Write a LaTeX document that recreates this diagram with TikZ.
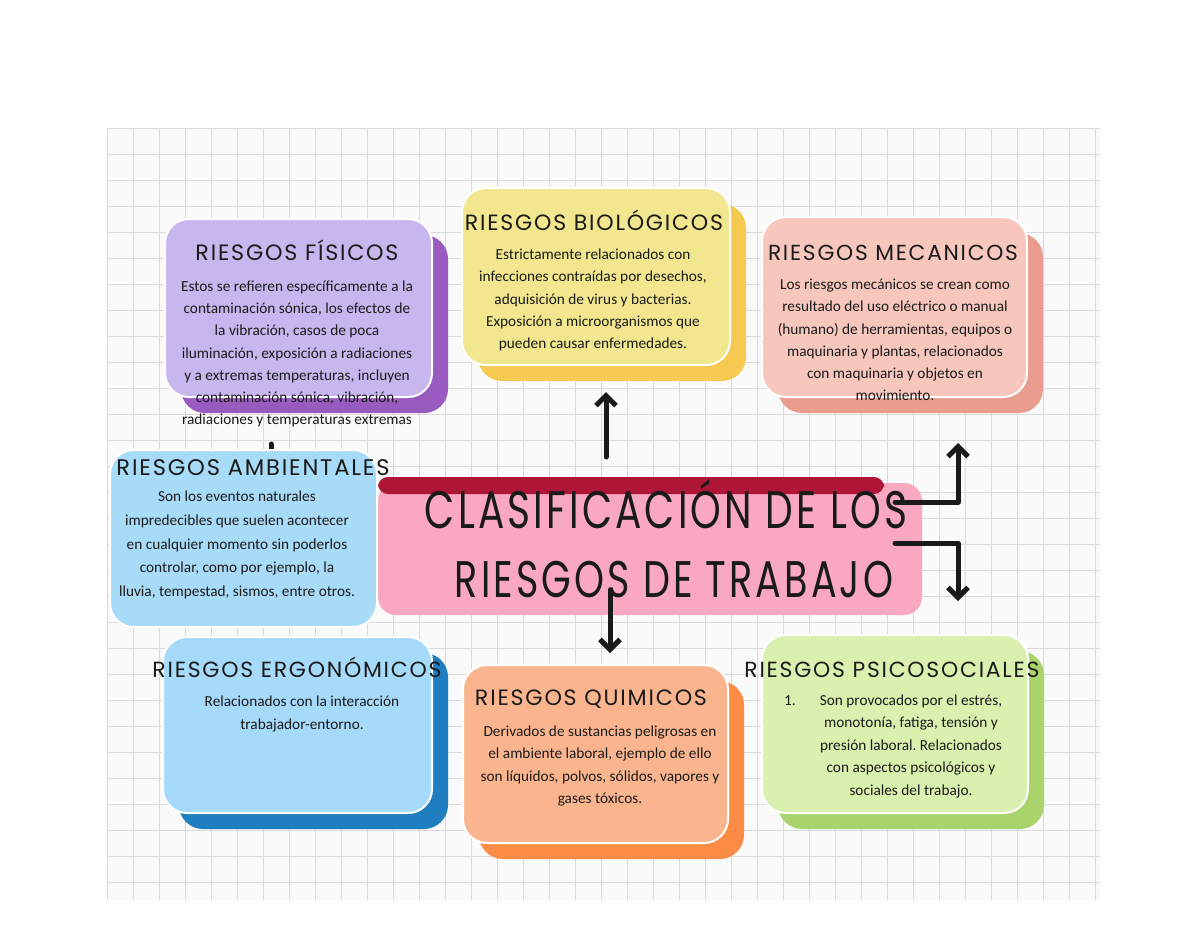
\documentclass[tikz,border=0pt]{standalone}
\usepackage{fontspec}
\usepackage{graphicx}
\usetikzlibrary{arrows.meta}
\newfontfamily\titlef[LetterSpace=8]{Poppins}
\newfontfamily\bodyf{Carlito}
\frenchspacing
\definecolor{ink}{HTML}{1A1A1A}
\definecolor{gridbg}{HTML}{FAFAFA}
\definecolor{gridln}{HTML}{DADADA}
\definecolor{fisF}{HTML}{C8B6EF}
\definecolor{fisS}{HTML}{9A5BC0}
\definecolor{bioF}{HTML}{F2E68E}
\definecolor{bioS}{HTML}{F6CA50}
\definecolor{mecF}{HTML}{F7C7BD}
\definecolor{mecS}{HTML}{EA9C8E}
\definecolor{ambF}{HTML}{A8DBF8}
\definecolor{ergF}{HTML}{A6DAFA}
\definecolor{ergS}{HTML}{1F7EC0}
\definecolor{quiF}{HTML}{FBB58E}
\definecolor{quiS}{HTML}{FC8C45}
\definecolor{psiF}{HTML}{DAF0AE}
\definecolor{psiS}{HTML}{A9D46B}
\definecolor{ctrF}{HTML}{F9A8BF}
\definecolor{band}{HTML}{AE1537}
\tikzset{
  frontbox/.style={draw=white, line width=1pt, rounded corners=12pt, inner sep=0pt, outer sep=0pt},
  shadowbox/.style={draw=none, rounded corners=12pt, inner sep=0pt, outer sep=0pt},
  ttl/.style={inner sep=0pt, outer sep=0pt, text=ink, anchor=base},
  body/.style={inner sep=0pt, outer sep=0pt, align=center, text=ink, font=\bodyf\frenchspacing\fontsize{7.65}{11.1}\selectfont},
  conn/.style={line width=2.5pt, line cap=round, line join=round, draw=ink, -{Straight Barb[length=5pt,width=10pt]}},
  gridline/.style={draw=gridln, line width=0.45pt}
}
\newcommand\cardpair[7]{%
  \node[shadowbox, fill=#7, minimum width=#4*0.5pt, minimum height=#5*0.5pt] (#1s) at (#2+16,#3+16) {};
  \node[frontbox, fill=#6, minimum width=#4*0.5pt, minimum height=#5*0.5pt] (#1) at (#2,#3) {};
}
\begin{document}
\begin{tikzpicture}[x=0.5pt,y=-0.5pt]
\useasboundingbox (0,0) rectangle (1200,927);
\fill[white] (0,0) rectangle (1200,927);
\fill[gridbg] (107,128) rectangle (1100,900);
\foreach \i in {0,...,38} { \draw[gridline] (107+\i*26,128) -- (107+\i*26,900); }
\foreach \j in {0,...,29} { \draw[gridline] (107,128+\j*26) -- (1100,128+\j*26); }

% Fisicos
\cardpair{fis}{298.5}{308}{267}{178}{fisF}{fisS}
\node[ttl] (fist) at (297,260) {\resizebox{101.5pt}{!}{\titlef RIESGOS FÍSICOS}};
\node[body] (fisb) at (297,354) {Estos se refieren específicamente a la\\
contaminación sónica, los efectos de\\
la vibración, casos de poca\\
iluminación, exposición a radiaciones\\
y a extremas temperaturas, incluyen\\
contaminación sónica, vibración,\\
radiaciones y temperaturas extremas};

% Biologicos
\cardpair{bio}{596}{276.5}{268}{177}{bioF}{bioS}
\node[ttl] (biot) at (594,230) {\resizebox{129pt}{!}{\titlef RIESGOS BIOLÓGICOS}};
\node[body] (biob) at (593,300) {Estrictamente relacionados con\\
infecciones contraídas por desechos,\\
adquisición de virus y bacterias.\\
Exposición a microorganismos que\\
pueden causar enfermedades.};

% Mecanicos
\cardpair{mec}{894.5}{307}{265}{180}{mecF}{mecS}
\node[ttl] (mect) at (893,260) {\resizebox{125pt}{!}{\titlef RIESGOS MECANICOS}};
\node[body] (mecb) at (895,340) {Los riesgos mecánicos se crean como\\
resultado del uso eléctrico o manual\\
(humano) de herramientas, equipos o\\
maquinaria y plantas, relacionados\\
con maquinaria y objetos en\\
movimiento.};

% hidden arrow behind ambientales
\coordinate (h0) at (271,475);
\coordinate (h1) at (271,444);
\draw[line width=2.5pt, line cap=round, draw=ink] (h0) -- (h1);

% central box
\node[shadowbox, fill=ctrF, rounded corners=9pt, minimum width=544*0.5pt, minimum height=132*0.5pt] (ctr) at (650,549) {};
\fill[band, rounded corners=5pt] (378,477) rectangle (884,494);

% Ambientales
\node[frontbox, fill=ambF, minimum width=267*0.5pt, minimum height=177*0.5pt] (amb) at (243.5,538.5) {};
\node[ttl] (ambt) at (253,475) {\resizebox{136.5pt}{!}{\titlef RIESGOS AMBIENTALES}};
\node[body, font=\bodyf\frenchspacing\fontsize{7.65}{11.9}\selectfont] (ambb) at (237,545) {Son los eventos naturales\\
impredecibles que suelen acontecer\\
en cualquier momento sin poderlos\\
controlar, como por ejemplo, la\\
lluvia, tempestad, sismos, entre otros.};

% central title
\node[ttl] (ct1) at (666,528) {\scalebox{1}[1.35]{\resizebox{241pt}{!}{\titlef CLASIFICACIÓN DE LOS}}};
\node[ttl] (ct2) at (674,597) {\scalebox{1}[1.35]{\resizebox{219pt}{!}{\titlef RIESGOS DE TRABAJO}}};

% Ergonomicos
\cardpair{erg}{297.5}{725}{269}{176}{ergF}{ergS}
\node[ttl] (ergt) at (297,677) {\resizebox{144.5pt}{!}{\titlef RIESGOS ERGONÓMICOS}};
\node[body] (ergb) at (302,714) {Relacionados con la interacción\\
trabajador-entorno.};

% Quimicos
\cardpair{qui}{595.5}{754}{265}{178}{quiF}{quiS}
\node[ttl] (quit) at (591,705) {\resizebox{116pt}{!}{\titlef RIESGOS QUIMICOS}};
\node[body] (quib) at (600,766) {Derivados de sustancias peligrosas en\\
el ambiente laboral, ejemplo de ello\\
son líquidos, polvos, sólidos, vapores y\\
gases tóxicos.};

% Psicosociales
\cardpair{psi}{895}{724}{266}{178}{psiF}{psiS}
\node[ttl] (psit) at (892,677) {\resizebox{147.5pt}{!}{\titlef RIESGOS PSICOSOCIALES}};
\node[body, font=\bodyf\frenchspacing\fontsize{7.65}{11.25}\selectfont] (psib) at (911,746) {\makebox[0pt][r]{1.\hspace{12pt}}Son provocados por el estrés,\\
monotonía, fatiga, tensión y\\
presión laboral. Relacionados\\
con aspectos psicológicos y\\
sociales del trabajo.};

% connectors
\coordinate (u0) at (606,457);
\coordinate (u1) at (606,392);
\draw[conn] (u0) -- (u1);
\coordinate (d0) at (610,590);
\coordinate (d1) at (610,653);
\draw[conn] (d0) -- (d1);
\coordinate (r0) at (895,502);
\coordinate (r1) at (958,502);
\coordinate (r2) at (958,443);
\draw[conn] (r0) -- (r1) -- (r2);
\coordinate (s0) at (895,543);
\coordinate (s1) at (958,543);
\coordinate (s2) at (958,601);
\draw[conn] (s0) -- (s1) -- (s2);
\end{tikzpicture}
\end{document}
